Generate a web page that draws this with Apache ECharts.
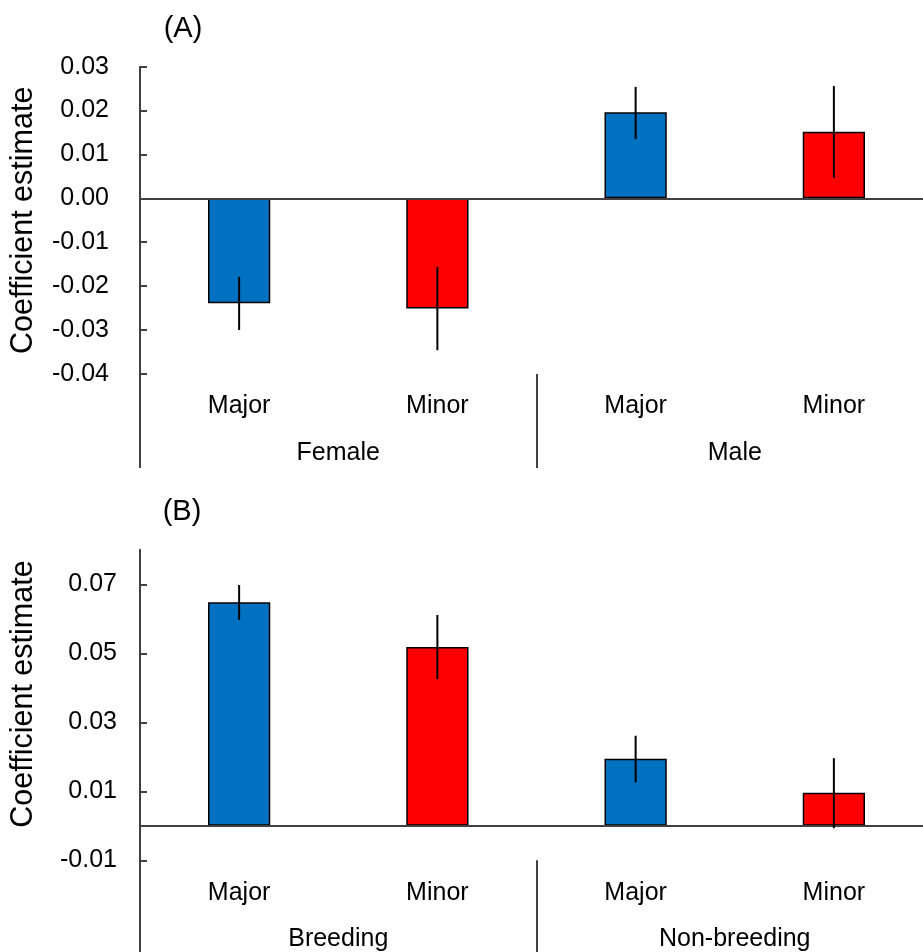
<!DOCTYPE html>
<html><head><meta charset="utf-8">
<script src="https://cdn.jsdelivr.net/npm/echarts@6/dist/echarts.min.js"></script>
<style>html,body{margin:0;padding:0;background:#fff}#c{width:923px;height:952px}</style>
</head><body><div id="c"></div>
<script>
const levels = ['Major', 'Minor'];
const groupsA = ['Female', 'Male'];
const groupsB = ['Breeding', 'Non-breeding'];
const valuesA = [-0.0239, -0.0251, 0.0196, 0.0152];
const lowA = [-0.0300, -0.0346, 0.0135, 0.0047];
const highA = [-0.0179, -0.0156, 0.0254, 0.0256];
const valuesB = [0.0648, 0.0518, 0.0194, 0.0096];
const lowB = [0.0597, 0.0425, 0.0126, -0.0007];
const highB = [0.0698, 0.0611, 0.0261, 0.0196];
const ticksA = [-0.04, -0.03, -0.02, -0.01, 0, 0.01, 0.02, 0.03];
const ticksB = [-0.01, 0.01, 0.03, 0.05, 0.07];
const yTitle = 'Coefficient estimate';
const colors = { Major: '#0070C0', Minor: '#FF0000' };

const FONT = '"Liberation Sans", Arial, sans-serif';
const AX = '#404040';

function cats(groups) {
  const out = [];
  groups.forEach(g => levels.forEach(l => out.push(g + '|' + l)));
  return out;
}

function levelAxis(gi, groups) {
  return {
    type: 'category', gridIndex: gi, data: cats(groups), position: 'bottom',
    axisLine: { show: false, onZero: false }, axisTick: { show: false },
    splitLine: { show: false },
    axisLabel: { interval: 0, margin: 20, fontSize: 25, fontFamily: FONT, color: '#000',
      formatter: v => v.split('|')[1] }
  };
}
function groupAxis(gi, groups, margin) {
  return {
    type: 'category', gridIndex: gi, data: groups, position: 'bottom',
    axisLine: { show: false, onZero: false },
    axisTick: { show: true, interval: 0, length: 94, lineStyle: { color: AX, width: 2 } },
    splitLine: { show: false },
    axisLabel: { interval: 0, margin: margin, fontSize: 25, fontFamily: FONT, color: '#000' }
  };
}
function valueAxis(gi, min, max, ticks, margin, pad) {
  return {
    type: 'value', gridIndex: gi, min: min, max: max,
    name: yTitle, nameLocation: 'middle', nameGap: 101,
    nameTextStyle: { fontSize: 30.5, fontFamily: FONT, color: '#000', padding: pad },
    axisLine: { show: true, onZero: false, lineStyle: { color: AX, width: 2 } },
    axisTick: { show: true, inside: true, length: 7, customValues: ticks, lineStyle: { color: AX, width: 2 } },
    splitLine: { show: false },
    axisLabel: { customValues: ticks, margin: margin, fontSize: 25, fontFamily: FONT, color: '#000',
      formatter: v => Number(v).toFixed(2) }
  };
}
function barSeries(xi, yi, values) {
  return {
    type: 'bar', xAxisIndex: xi, yAxisIndex: yi, barWidth: '31.4%',
    data: values.map((v, i) => ({ value: v, itemStyle: { color: colors[levels[i % 2]] } })),
    itemStyle: { borderColor: '#000', borderWidth: 1.5 },
    markLine: { silent: true, symbol: ['none', 'none'], label: { show: false },
      lineStyle: { color: AX, width: 2, type: 'solid' }, data: [{ yAxis: 0 }] }
  };
}
function errSeries(xi, yi, low, high) {
  return {
    type: 'custom', xAxisIndex: xi, yAxisIndex: yi, z: 5,
    encode: { x: 0, y: [1, 2] },
    data: low.map((l, i) => [i, l, high[i]]),
    renderItem: (params, api) => {
      const p1 = api.coord([api.value(0), api.value(1)]);
      const p2 = api.coord([api.value(0), api.value(2)]);
      return { type: 'line', shape: { x1: p1[0], y1: p1[1], x2: p2[0], y2: p2[1] },
        style: { stroke: '#000', lineWidth: 2 } };
    }
  };
}

const chart = echarts.init(document.getElementById('c'));
chart.setOption({
  animation: false,
  backgroundColor: '#fff',
  grid: [
    { left: 140, top: 66.7, width: 793, height: 307.2, outerBoundsMode: 'none', containLabel: false },
    { left: 140, top: 549.8, width: 793, height: 310.5, outerBoundsMode: 'none', containLabel: false }
  ],
  xAxis: [levelAxis(0, groupsA), groupAxis(0, groupsA, 67), levelAxis(1, groupsB), groupAxis(1, groupsB, 66)],
  yAxis: [valueAxis(0, -0.04, 0.03, ticksA, 31, [0, 0, 0, 0]), valueAxis(1, -0.01, 0.08, ticksB, 23, [0, 0, 0, 22])],
  graphic: [
    { type: 'text', x: 183, y: 28.5, style: { text: '(A)', fontSize: 29, fontFamily: FONT, fill: '#000', textAlign: 'center', textVerticalAlign: 'middle' } },
    { type: 'text', x: 182, y: 511.5, style: { text: '(B)', fontSize: 29, fontFamily: FONT, fill: '#000', textAlign: 'center', textVerticalAlign: 'middle' } }
  ],
  series: [
    barSeries(0, 0, valuesA), errSeries(0, 0, lowA, highA),
    barSeries(2, 1, valuesB), errSeries(2, 1, lowB, highB)
  ]
});
</script>
</body></html>
